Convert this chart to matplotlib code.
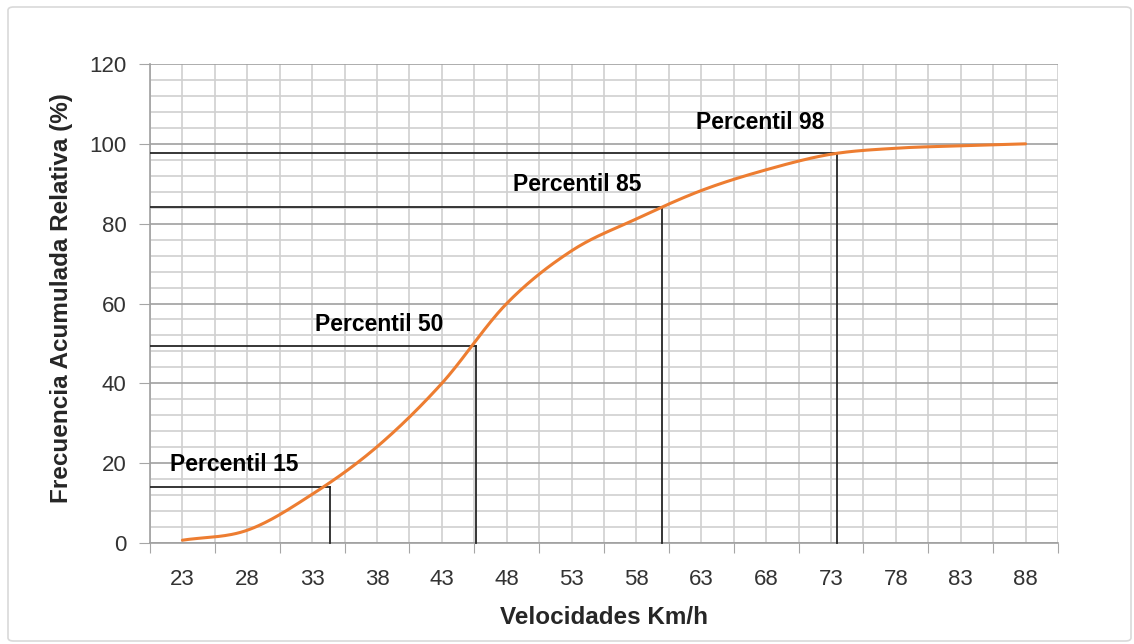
from matplotlib import pyplot as plt
from matplotlib.patches import FancyBboxPatch
import numpy as np

# datos (curva de frecuencia acumulada)
velocidades = [23, 28, 33, 38, 43, 48, 53, 58, 63, 68, 73, 78, 83, 88]
frec_acum = [0.7, 3.2, 12.2, 24.1, 40.0, 60.0, 73.2, 81.2, 88.3, 93.5, 97.4, 98.9, 99.5, 100.0]

percentiles = ['Percentil 15', 'Percentil 50', 'Percentil 85', 'Percentil 98']
pct_velocidad = [34.35, 45.6, 59.95, 73.5]
pct_frecuencia = [14.1, 49.3, 84.3, 97.8]


def catmull_rom(x, y, n=30):
    """suavizado tipo Excel entre los puntos"""
    x = np.asarray(x, float)
    y = np.asarray(y, float)
    px = np.concatenate([[2 * x[0] - x[1]], x, [2 * x[-1] - x[-2]]])
    py = np.concatenate([[2 * y[0] - y[1]], y, [2 * y[-1] - y[-2]]])
    xs, ys = [], []
    t = np.linspace(0, 1, n)
    for i in range(1, len(px) - 2):
        for p, out in ((px, xs), (py, ys)):
            p0, p1, p2, p3 = p[i - 1], p[i], p[i + 1], p[i + 2]
            out.extend(0.5 * (2 * p1 + (-p0 + p2) * t
                              + (2 * p0 - 5 * p1 + 4 * p2 - p3) * t ** 2
                              + (-p0 + 3 * p1 - 3 * p2 + p3) * t ** 3))
    return np.array(xs), np.array(ys)


plt.rcParams['font.family'] = ['Liberation Sans', 'DejaVu Sans']

fig = plt.figure(figsize=(11.34, 6.44), dpi=100)
fig.patches.append(FancyBboxPatch((8 / 1134, 3 / 644), 1123 / 1134, 634 / 644,
                                  boxstyle='round,pad=0,rounding_size=0.005',
                                  transform=fig.transFigure, facecolor='none',
                                  edgecolor='#d9d9d9', linewidth=1.2))
ax = fig.add_axes([150 / 1134, 1 - 543 / 644, 908 / 1134, 479 / 644])

x_lo = velocidades[0] - 2.5
x_hi = velocidades[-1] + 2.5
ax.set_xlim(x_lo, x_hi)
ax.set_ylim(0, 120)

# eje x: marcas entre categorias, etiquetas centradas
ax.set_xticks(np.arange(x_lo, x_hi + 0.1, 5))
ax.set_xticklabels([])
ax.set_xticks(velocidades, minor=True)
ax.set_xticklabels([str(v) for v in velocidades], minor=True)
ax.tick_params(axis='x', which='major', direction='out', length=7, color='#a6a6a6')
ax.tick_params(axis='x', which='minor', length=0, pad=19, labelsize=16, labelcolor='#333333')

ax.set_yticks(np.arange(0, 121, 20))
ax.set_yticks(np.arange(0, 121, 4), minor=True)
ax.tick_params(axis='y', which='major', direction='out', length=8, color='#a6a6a6',
               pad=9, labelsize=16, labelcolor='#333333')
ax.tick_params(axis='y', which='minor', length=0)

ax.grid(axis='x', which='both', color='#d0d0d0', linewidth=1.2)
ax.grid(axis='y', which='minor', color='#d0d0d0', linewidth=1.2)
ax.grid(axis='y', which='major', color='#a0a0a0', linewidth=1.2)
ax.set_axisbelow(True)

for s in ('top', 'right'):
    ax.spines[s].set_visible(False)
for s in ('left', 'bottom'):
    ax.spines[s].set_color('#a0a0a0')
    ax.spines[s].set_linewidth(1.2)

# curva suavizada
cx, cy = catmull_rom(velocidades, frec_acum)
ax.plot(cx, cy, color='#ed7d31', linewidth=2.2, zorder=4, solid_capstyle='round')

# lineas de percentiles y etiquetas
offsets_px = [(-95, 22), (-96, 22), (-85, 22), (-77, 30)]
for nombre, v, f, (dx, dy) in zip(percentiles, pct_velocidad, pct_frecuencia, offsets_px):
    ax.plot([x_lo, v], [f, f], color='#262626', linewidth=1.3, zorder=3)
    ax.plot([v, v], [0, f], color='#262626', linewidth=1.3, zorder=3, clip_on=False)
    ax.annotate(nombre, xy=(v, f), xytext=(dx * 0.72, dy * 0.72),
                textcoords='offset points', ha='center', va='center',
                fontsize=16.5, fontweight='bold', color='black')

ax.set_xlabel('Velocidades Km/h', fontsize=17.5, fontweight='bold', color='#262626')
ax.xaxis.set_label_coords(0.5, -0.1545)
ax.xaxis.label.set_verticalalignment('center')
ax.set_ylabel('Frecuencia Acumulada Relativa (%)', fontsize=17.5, fontweight='bold',
              color='#262626')
ax.yaxis.set_label_coords(-0.097, 0.511)
ax.yaxis.label.set_verticalalignment('center')

fig.savefig('out.png', dpi=100)
